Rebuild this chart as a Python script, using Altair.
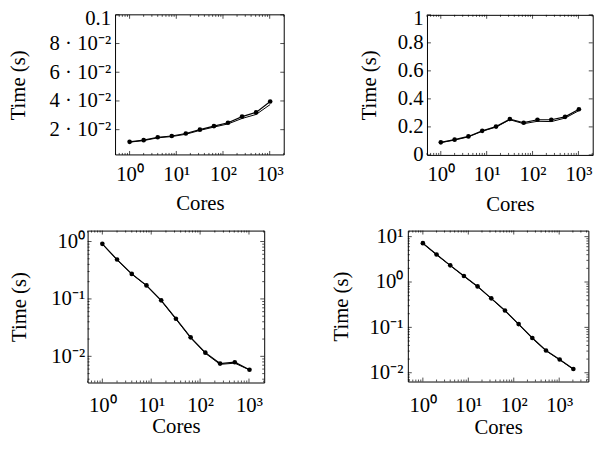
import math
import altair as alt
import pandas as pd

# ---------------- data ----------------
cores_11 = [1, 2, 4, 8, 16, 32, 64, 128, 256, 512, 1024]
cores_12 = [1, 2, 4, 8, 16, 32, 64, 128, 256, 512, 1024, 2048]

p1_marked = [0.0115, 0.0127, 0.0147, 0.0156, 0.0173, 0.0200, 0.0225, 0.0248, 0.0291, 0.0320, 0.0396]
p1_plain = [0.0113, 0.0124, 0.0143, 0.0152, 0.0168, 0.0195, 0.0218, 0.0240, 0.0278, 0.0306, 0.0375]

p2_marked = [0.090, 0.109, 0.132, 0.172, 0.202, 0.256, 0.230, 0.251, 0.251, 0.272, 0.326]
p2_plain = [0.088, 0.106, 0.129, 0.169, 0.199, 0.251, 0.223, 0.240, 0.238, 0.263, 0.316]

p3_marked = [0.91, 0.485, 0.273, 0.172, 0.0944, 0.0452, 0.0214, 0.0116, 0.00748, 0.0079, 0.00585]
p3_plain = [0.90, 0.480, 0.270, 0.170, 0.0930, 0.0445, 0.0210, 0.0113, 0.00725, 0.0076, 0.00580]

p4_marked = [7.18, 4.05, 2.33, 1.36, 0.80, 0.436, 0.235, 0.118, 0.0583, 0.0309, 0.0196, 0.0121]
p4_plain = [7.10, 4.00, 2.30, 1.34, 0.79, 0.430, 0.232, 0.116, 0.0575, 0.0305, 0.0193, 0.0119]

# axis tick values and labels
x_major = [1, 10, 100, 1000]
x_major_labels = ["10⁰", "10¹", "10²", "10³"]
x_minor = [0.5, 0.6, 0.7, 0.8, 0.9, 2, 3, 4, 5, 6, 7, 8, 9,
           20, 30, 40, 50, 60, 70, 80, 90, 200, 300, 400, 500, 600, 700, 800, 900,
           2000, 3000, 4000]

p1_y_major = [0.02, 0.04, 0.06, 0.08, 0.1]
p1_y_labels = ["2 · 10⁻²", "4 · 10⁻²", "6 · 10⁻²", "8 · 10⁻²", "0.1"]
p2_y_major = [0, 0.2, 0.4, 0.6, 0.8, 1]
p2_y_labels = ["0", "0.2", "0.4", "0.6", "0.8", "1"]
p3_y_major = [0.01, 0.1, 1]
p3_y_labels = ["10⁻²", "10⁻¹", "10⁰"]
p3_y_minor = [0.004, 0.005, 0.006, 0.007, 0.008, 0.009,
              0.02, 0.03, 0.04, 0.05, 0.06, 0.07, 0.08, 0.09,
              0.2, 0.3, 0.4, 0.5, 0.6, 0.7, 0.8, 0.9]
p4_y_major = [0.01, 0.1, 1, 10]
p4_y_labels = ["10⁻²", "10⁻¹", "10⁰", "10¹"]
p4_y_minor = [0.007, 0.008, 0.009,
              0.02, 0.03, 0.04, 0.05, 0.06, 0.07, 0.08, 0.09,
              0.2, 0.3, 0.4, 0.5, 0.6, 0.7, 0.8, 0.9,
              2, 3, 4, 5, 6, 7, 8, 9]

FONT = "Liberation Serif"
FS = 21


def label_expr(values, labels):
    expr = "''"
    for v, lab in reversed(list(zip(values, labels))):
        expr = f"datum.value == {v} ? '{lab}' : ({expr})"
    return expr


def panel(cores, marked, plain, xdom, ydom, ylog, ymajor, ylabels, yminor,
          w, h, yext, ylabpad, xlabpad, xtitlepad, lead=0, top_label_shift=0):
    # lead: extra blank width to the left of the framed plot area
    x0 = xdom[0]
    if lead:
        span = math.log10(xdom[1]) - math.log10(xdom[0])
        x0 = 10 ** (math.log10(xdom[0]) - lead * span / w)
    W = w + lead
    xscale = alt.Scale(type="log", domain=[x0, xdom[1]], nice=False)
    if ylog:
        yscale = alt.Scale(type="log", domain=ydom, nice=False)
    else:
        yscale = alt.Scale(type="linear", domain=ydom, nice=False, zero=False)

    xaxis_kw = dict(values=x_major, labelExpr=label_expr(x_major, x_major_labels),
                    title="Cores", ticks=False, domain=False, grid=False,
                    labelPadding=xlabpad, titlePadding=xtitlepad,
                    labelFlush=False, labelOverlap=False)
    yaxis_kw = dict(values=ymajor, labelExpr=label_expr(ymajor, ylabels),
                    title="Time (s)", ticks=False, domain=False, grid=False,
                    labelPadding=ylabpad, titlePadding=4,
                    minExtent=yext, maxExtent=yext,
                    labelFlush=False, labelOverlap=False)
    if lead:
        xaxis_kw["titleX"] = lead + w / 2
        yaxis_kw["offset"] = -lead
    if top_label_shift:
        yaxis_kw["labelOffset"] = {
            "condition": {"test": f"datum.value == {ymajor[-1]}", "value": top_label_shift},
            "value": 0,
        }
    xaxis = alt.Axis(**xaxis_kw)
    yaxis = alt.Axis(**yaxis_kw)

    X = lambda f: alt.X(f, scale=xscale, axis=xaxis)
    Y = lambda f: alt.Y(f, scale=yscale, axis=yaxis)

    df_plain = pd.DataFrame({"cores": cores, "time": plain})
    df_marked = pd.DataFrame({"cores": cores, "time": marked})

    plain_line = alt.Chart(df_plain).mark_line(color="black", strokeWidth=1).encode(
        x=X("cores:Q"), y=Y("time:Q"),
    )
    marked_line = alt.Chart(df_marked).mark_line(
        color="black", strokeWidth=1.2,
        point=alt.OverlayMarkDef(filled=True, color="black", size=22, opacity=1),
    ).encode(x=X("cores:Q"), y=Y("time:Q"))

    layers = [plain_line, marked_line]

    def inside(vals, lo, hi):
        return [v for v in vals if lo <= v <= hi]

    def xticks(vals, length, top):
        return alt.Chart(pd.DataFrame({"cores": inside(vals, xdom[0], xdom[1])})).mark_rule(
            color="black", strokeWidth=0.7
        ).encode(
            x=X("cores:Q"),
            y=alt.value(0 if top else h),
            y2=alt.value(length if top else h - length),
        )

    def yticks(vals, length, right):
        return alt.Chart(pd.DataFrame({"time": inside(vals, ydom[0], ydom[1])})).mark_rule(
            color="black", strokeWidth=0.7
        ).encode(
            y=Y("time:Q"),
            x=alt.value(W if right else lead),
            x2=alt.value(W - length if right else lead + length),
        )

    for top in (False, True):
        layers.append(xticks(x_major, 4, top))
        layers.append(xticks(x_minor, 2, top))
    for right in (False, True):
        layers.append(yticks(ymajor, 4, right))
        if yminor:
            layers.append(yticks(yminor, 2, right))

    if lead:
        # frame drawn through the x scale (view border is hidden for this panel)
        frame_src = alt.Chart(pd.DataFrame({"cores": [xdom[0]]}))
        left_edge = frame_src.mark_rule(color="black", strokeWidth=1).encode(
            x=X("cores:Q"), y=alt.value(0), y2=alt.value(h))
        right_edge = frame_src.mark_rule(color="black", strokeWidth=1).encode(
            x=alt.X(datum=xdom[1], type="quantitative", scale=xscale, axis=xaxis),
            y=alt.value(0), y2=alt.value(h))
        top_edge = frame_src.mark_rule(color="black", strokeWidth=1).encode(
            x=X("cores:Q"), x2=alt.X2(datum=xdom[1]), y=alt.value(0))
        bottom_edge = frame_src.mark_rule(color="black", strokeWidth=1).encode(
            x=X("cores:Q"), x2=alt.X2(datum=xdom[1]), y=alt.value(h))
        layers += [left_edge, right_edge, top_edge, bottom_edge]
        return alt.layer(*layers).properties(
            width=W, height=h, view=alt.ViewBackground(stroke="transparent"))

    return alt.layer(*layers).properties(width=W, height=h)


p1 = panel(cores_11, p1_marked, p1_plain, [0.5, 2048], [0.0024, 0.1], False,
           p1_y_major, p1_y_labels, [], 171, 142, 84, 5, 9, 8, lead=28.3,
           top_label_shift=4)
p2 = panel(cores_11, p2_marked, p2_plain, [0.5, 2048], [0, 1], False,
           p2_y_major, p2_y_labels, [], 168, 142, 44, 4, 9, 9,
           top_label_shift=4)
p3 = panel(cores_11, p3_marked, p3_plain, [0.5, 2048], [0.0035, 1.55], True,
           p3_y_major, p3_y_labels, p3_y_minor, 179, 154, 55, 3, 12, 1)
p4 = panel(cores_12, p4_marked, p4_plain, [0.467, 4385], [0.0064, 13.6], True,
           p4_y_major, p4_y_labels, p4_y_minor, 183, 153, 53.5, 5, 13, 2)

row1 = alt.hconcat(p1, p2, spacing=144, bounds="flush")
row2 = alt.hconcat(p3, p4, spacing=145.6, bounds="flush")

PL = 80.7
PT = 4
chart = alt.vconcat(row1, row2, spacing=9.7).properties(
    autosize=alt.AutoSizeParams(type="none"),
    padding={"left": PL, "top": PT, "right": 594 - PL, "bottom": 429 - PT},
    background="white",
).configure_view(
    stroke="black", strokeWidth=1
).configure_axis(
    labelFont=FONT, titleFont=FONT, labelFontSize=FS, titleFontSize=FS,
    titleFontWeight="normal", labelColor="black", titleColor="black",
)

chart.save("out.html", embed_options={"renderer": "svg", "actions": False})
